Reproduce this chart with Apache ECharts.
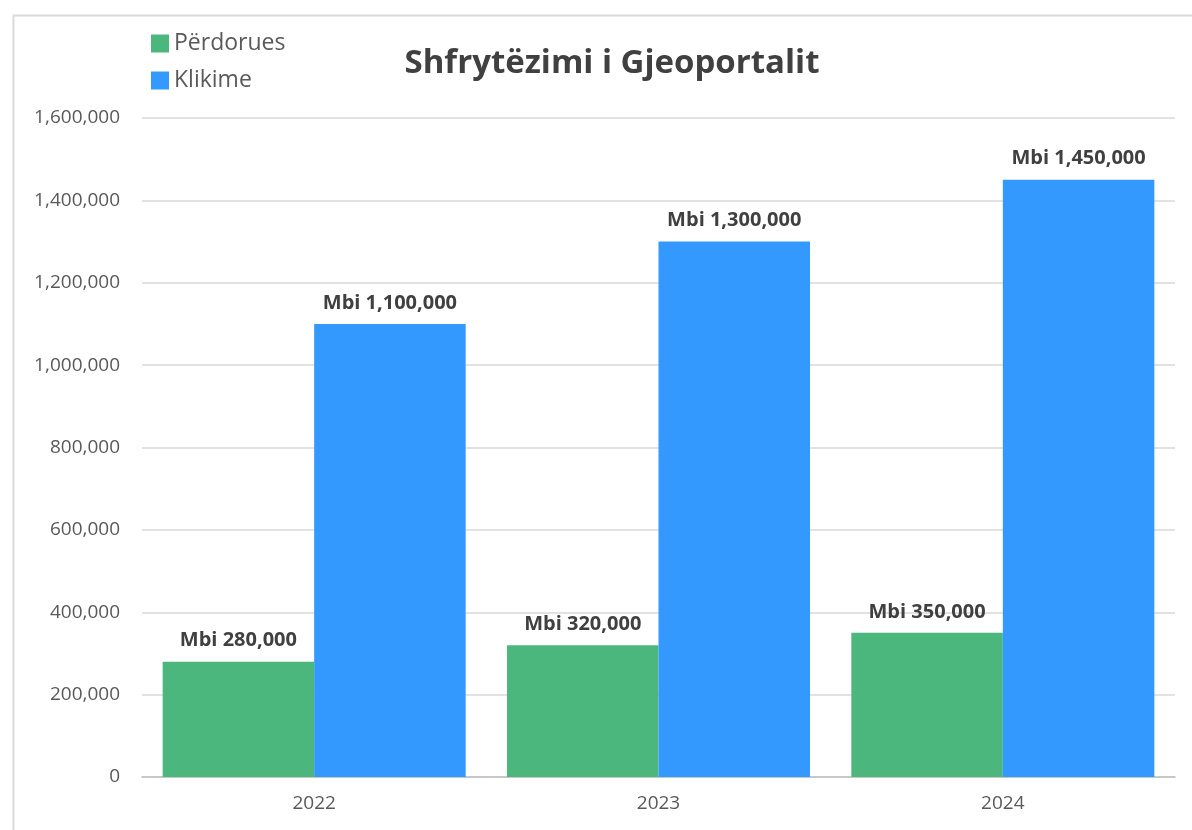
<!DOCTYPE html>
<html>
<head>
<meta charset="utf-8">
<script src="https://cdn.jsdelivr.net/npm/echarts@6/dist/echarts.min.js"></script>
<style>
  html, body { margin: 0; padding: 0; background: #fff; }
  #chart { width: 1192px; height: 830px; }
</style>
</head>
<body>
<div id="chart"></div>
<script>
// Gjeoportal usage by year
const years = ['2022', '2023', '2024'];
const perdorues = [280000, 320000, 350000];
const klikime = [1100000, 1300000, 1450000];
const labelPrefix = 'Mbi ';

const fmt = v => v.toLocaleString('en-US');

const chart = echarts.init(document.getElementById('chart'));

const barLabel = {
  show: true,
  position: 'top',
  distance: 11,
  fontFamily: 'Open Sans',
  fontWeight: 'bold',
  fontSize: 20,
  color: '#404040',
  formatter: p => labelPrefix + fmt(p.value)
};

chart.setOption({
  animation: false,
  backgroundColor: '#ffffff',
  graphic: [{
    type: 'rect',
    shape: { x: 13.5, y: 15.5, width: 1300, height: 900 },
    style: { fill: 'none', stroke: '#d9d9d9', lineWidth: 2 },
    silent: true,
    z: -1
  }],
  title: {
    text: 'Shfrytëzimi i Gjeoportalit',
    left: 607,
    top: 42,
    textAlign: 'center',
    textStyle: {
      fontFamily: 'Open Sans',
      fontWeight: 'bold',
      fontSize: 33,
      color: '#404040'
    }
  },
  legend: {
    orient: 'vertical',
    left: 146,
    top: 27,
    itemWidth: 18,
    itemHeight: 18,
    itemGap: 14,
    icon: 'rect',
    textStyle: {
      fontFamily: 'Open Sans',
      fontSize: 23,
      color: '#595959',
      padding: [0, 0, 0, 0]
    },
    data: ['Përdorues', 'Klikime']
  },
  grid: {
    left: 142,
    right: 17,
    top: 118,
    bottom: 53,
    containLabel: false
  },
  xAxis: {
    type: 'category',
    data: years,
    axisTick: { show: false },
    axisLine: { show: true, lineStyle: { color: '#bfbfbf', width: 1.5 } },
    axisLabel: {
      fontFamily: 'Open Sans',
      fontSize: 19,
      color: '#595959',
      margin: 17
    }
  },
  yAxis: {
    type: 'value',
    min: 0,
    max: 1600000,
    interval: 200000,
    axisLine: { show: false },
    axisTick: { show: false },
    splitLine: { lineStyle: { color: '#d9d9d9', width: 1.5 } },
    axisLabel: {
      fontFamily: 'Open Sans',
      fontSize: 19,
      color: '#595959',
      margin: 22,
      formatter: v => fmt(v)
    }
  },
  series: [
    {
      name: 'Përdorues',
      type: 'bar',
      data: perdorues,
      barGap: '0%',
      barCategoryGap: '12%',
      itemStyle: { color: '#4cb77c' },
      label: barLabel
    },
    {
      name: 'Klikime',
      type: 'bar',
      data: klikime,
      barGap: '0%',
      barCategoryGap: '12%',
      itemStyle: { color: '#3399ff' },
      label: barLabel
    }
  ]
});
</script>
</body>
</html>
